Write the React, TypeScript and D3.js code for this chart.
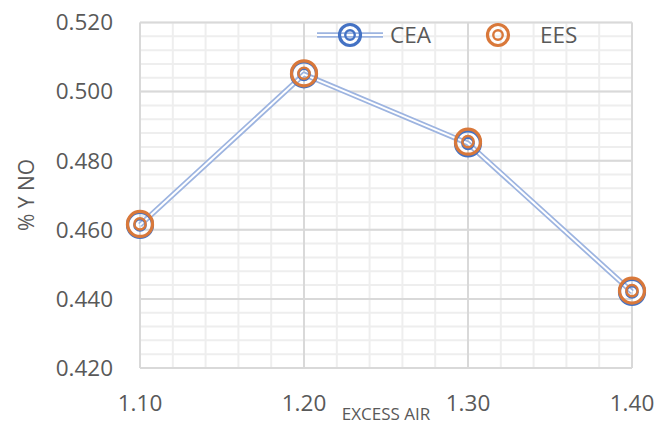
import React from "react";
import * as d3 from "d3";

const xValues = [1.1, 1.2, 1.3, 1.4];
const ceaValues = [0.4614, 0.505, 0.485, 0.442];
const eesValues = [0.4617, 0.5053, 0.4855, 0.4424];
const xTicks = [1.1, 1.2, 1.3, 1.4];
const yTicks = [0.42, 0.44, 0.46, 0.48, 0.5, 0.52];
const seriesNames = ["CEA", "EES"];

const W = 658;
const H = 425;
const FONT = "'Open Sans', 'Liberation Sans', sans-serif";
const TEXT = "#595959";
const BLUE = "#4472C4";
const ORANGE = "#D9783A";
const LINE = "#9DB4E0";

function Target({ cx, cy, color, r = 12.5 }: { cx: number; cy: number; color: string; r?: number }) {
  return (
    <g>
      <circle cx={cx} cy={cy} r={r} fill="none" stroke={color} strokeWidth={3.2} />
      <circle cx={cx} cy={cy} r={r * 0.45} fill="none" stroke={color} strokeWidth={2.4} />
    </g>
  );
}

export default function App() {
  const x = d3.scaleLinear().domain([1.1, 1.4]).range([140, 632]);
  const y = d3.scaleLinear().domain([0.42, 0.52]).range([368, 22.5]);

  const minorX = d3.range(0, 16).map((i) => 1.1 + i * 0.02);
  const minorY = d3.range(0, 26).map((i) => 0.42 + i * 0.004);

  const line = d3
    .line<number>()
    .x((_, i) => x(xValues[i]))
    .y((d) => y(d));
  const pathD = line(ceaValues) || "";

  const [x0, x1] = x.range();
  const [yb, yt] = y.range();

  return (
    <svg width={W} height={H} style={{ position: "absolute", left: 0, top: 0 }} fontFamily={FONT}>
      <rect width={W} height={H} fill="white" />
      {minorX.map((v, i) => (
        <line key={"mx" + i} x1={x(v)} x2={x(v)} y1={yt} y2={yb} stroke="#EEEEEE" strokeWidth={2} />
      ))}
      {minorY.map((v, i) => (
        <line key={"my" + i} x1={x0} x2={x1} y1={y(v)} y2={y(v)} stroke="#EEEEEE" strokeWidth={2} />
      ))}
      {xTicks.map((v, i) => (
        <line key={"Mx" + i} x1={x(v)} x2={x(v)} y1={yt} y2={yb} stroke="#D9D9D9" strokeWidth={2} />
      ))}
      {yTicks.map((v, i) => (
        <line key={"My" + i} x1={x0} x2={x1} y1={y(v)} y2={y(v)} stroke="#D9D9D9" strokeWidth={2} />
      ))}

      {yTicks.map((v, i) => (
        <text key={"yt" + i} x={113} y={y(v)} dy="0.35em" textAnchor="end" fontSize={22.5} fill={TEXT}>
          {d3.format(".3f")(v)}
        </text>
      ))}
      {xTicks.map((v, i) => (
        <text key={"xt" + i} x={x(v)} y={411} textAnchor="middle" fontSize={22.5} fill={TEXT}>
          {d3.format(".2f")(v)}
        </text>
      ))}
      <text x={386} y={420} textAnchor="middle" fontSize={17} fill={TEXT}>
        EXCESS AIR
      </text>
      <text transform={`translate(34,195) rotate(-90)`} textAnchor="middle" fontSize={21} fill={TEXT}>
        % Y NO
      </text>

      <path d={pathD} fill="none" stroke={LINE} strokeWidth={5.5} strokeLinejoin="round" />
      <path d={pathD} fill="none" stroke="white" strokeWidth={2} strokeLinejoin="round" />

      {ceaValues.map((v, i) => (
        <Target key={"c" + i} cx={x(xValues[i])} cy={y(v)} color={BLUE} />
      ))}
      {eesValues.map((v, i) => (
        <Target key={"e" + i} cx={x(xValues[i])} cy={y(v)} color={ORANGE} />
      ))}

      <g>
        <line x1={317} x2={383} y1={35} y2={35} stroke={LINE} strokeWidth={5.5} />
        <line x1={317} x2={383} y1={35} y2={35} stroke="white" strokeWidth={2} />
        <Target cx={350} cy={35} color={BLUE} r={10.5} />
        <text x={390} y={35} dy="0.36em" fontSize={22.5} fill={TEXT}>
          {seriesNames[0]}
        </text>
        <Target cx={498} cy={35} color={ORANGE} r={10.5} />
        <text x={540} y={35} dy="0.36em" fontSize={22.5} fill={TEXT}>
          {seriesNames[1]}
        </text>
      </g>
    </svg>
  );
}
